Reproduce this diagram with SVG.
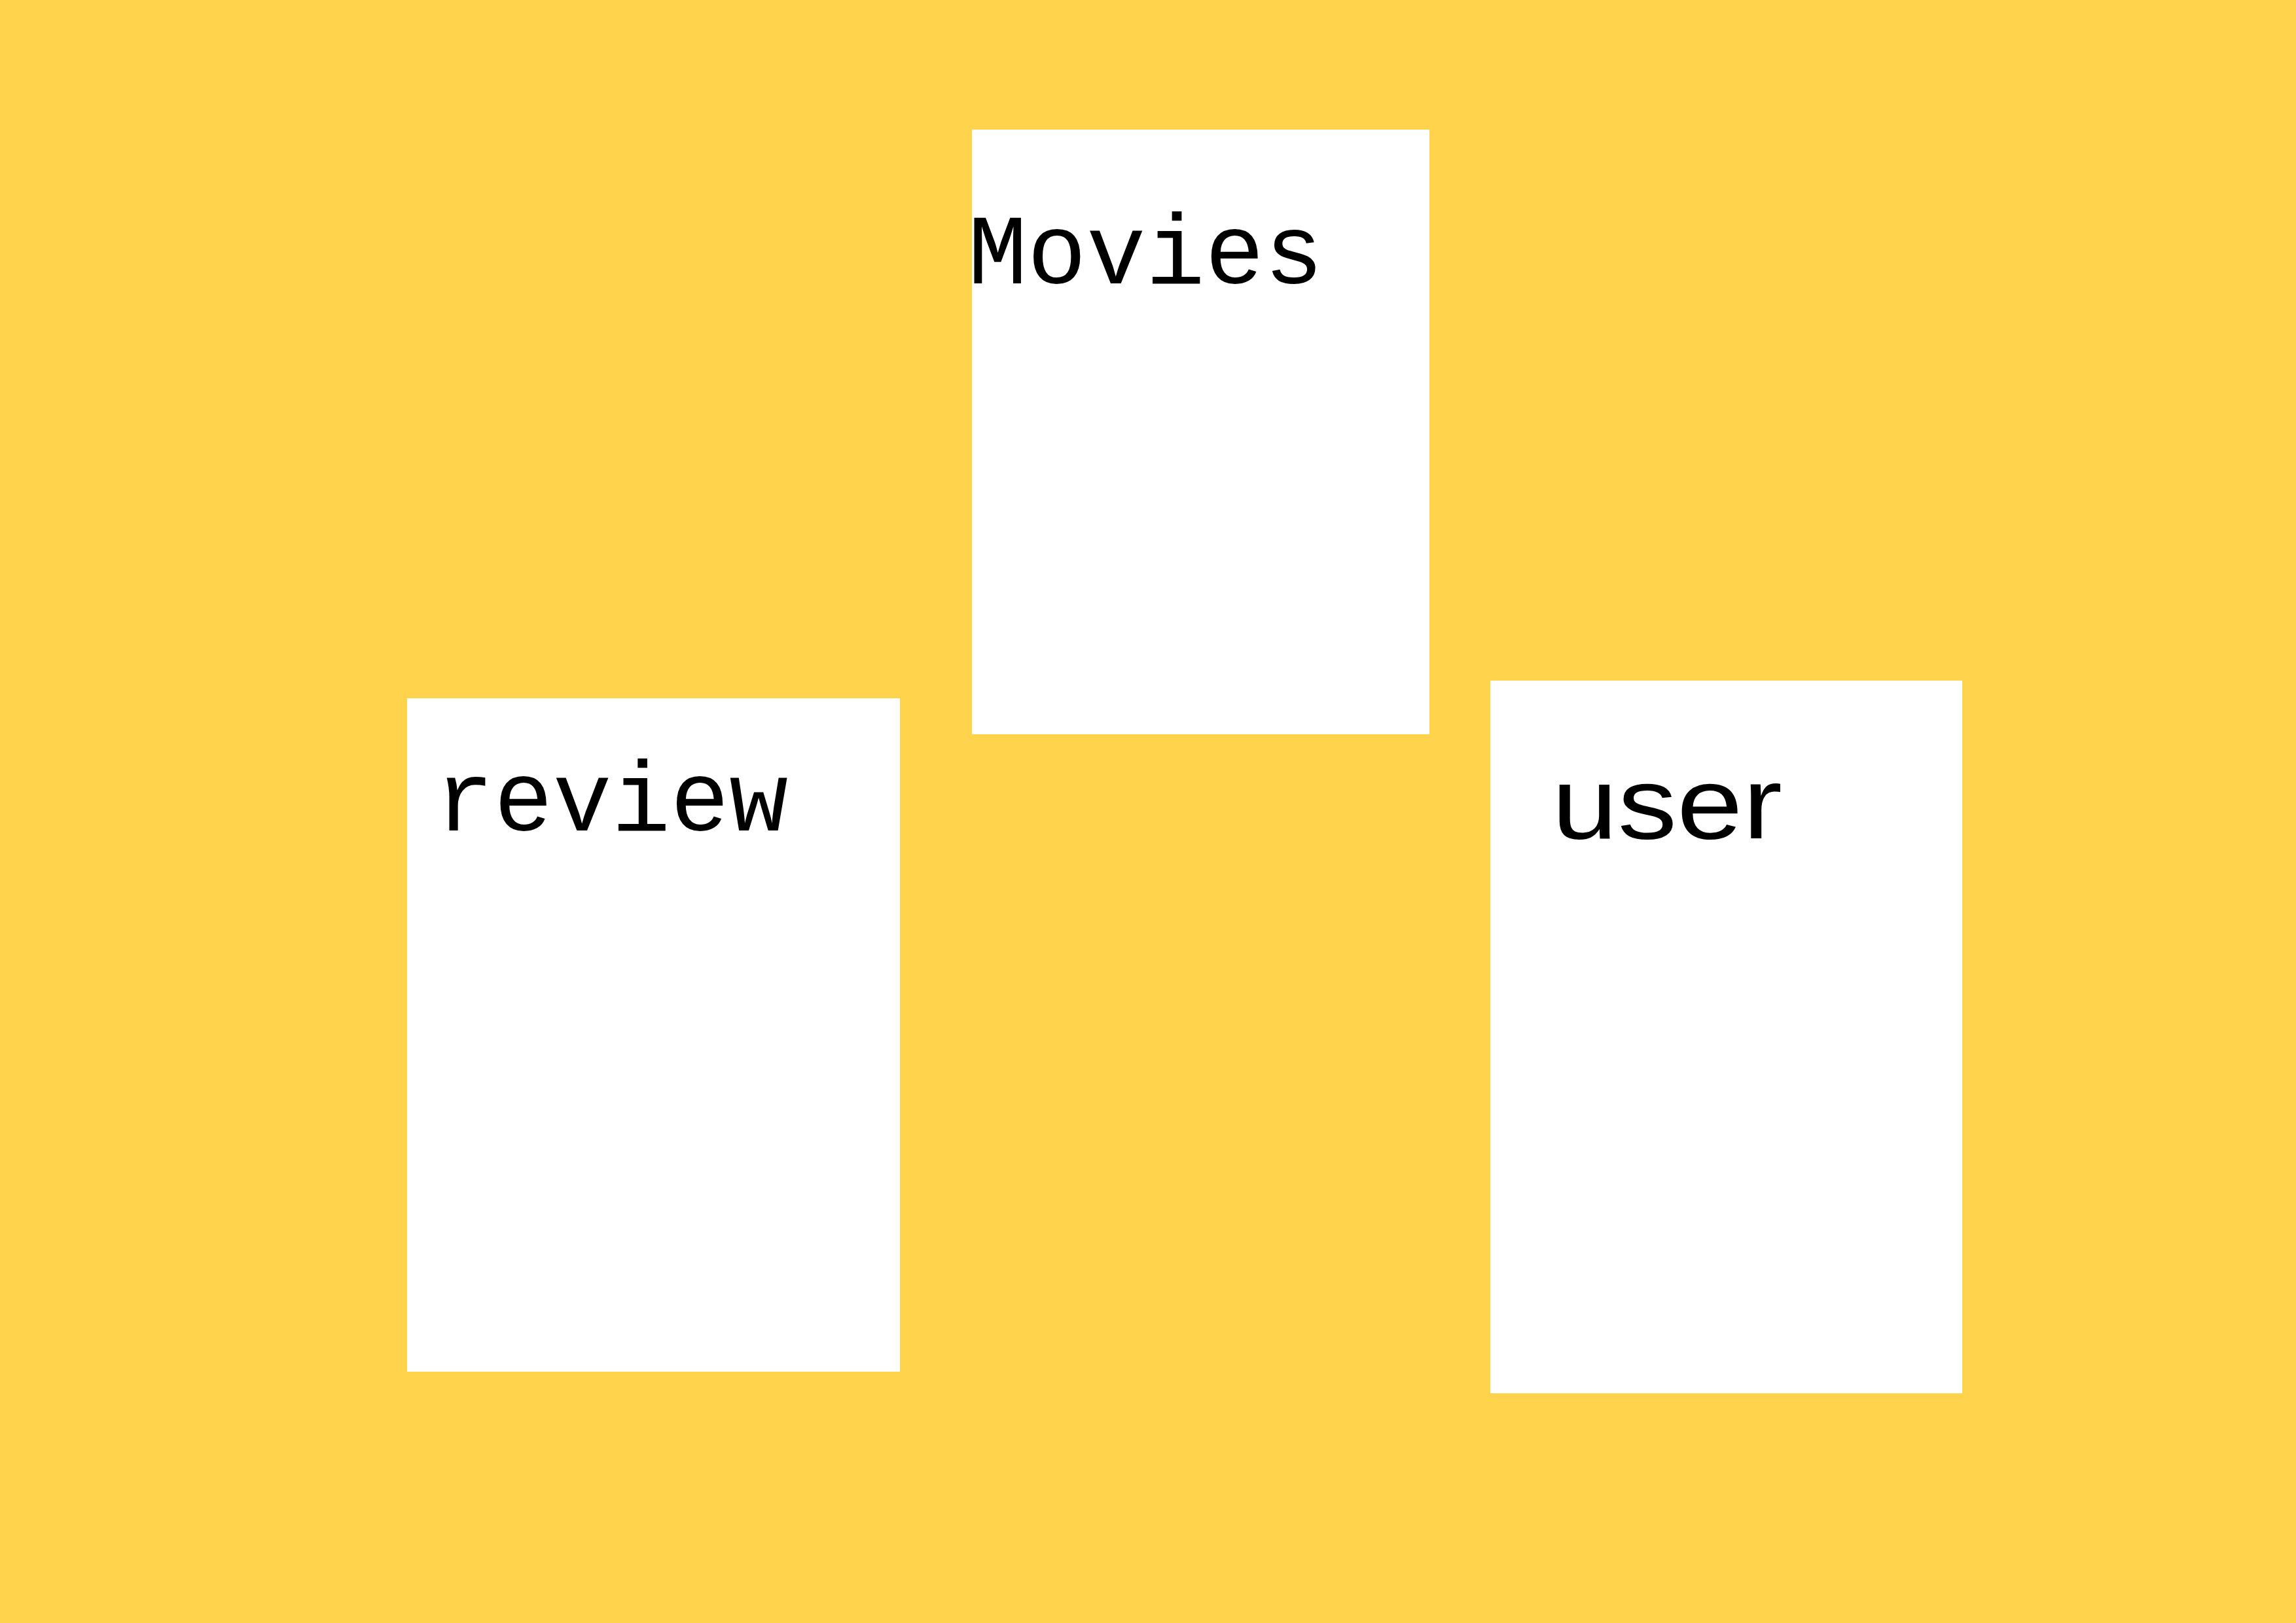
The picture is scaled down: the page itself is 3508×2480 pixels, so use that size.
<svg xmlns="http://www.w3.org/2000/svg" width="3508" height="2480" viewBox="0 0 3508 2480">
<style>
.card{fill:#ffffff;}
.mono{font-family:"Liberation Mono","DejaVu Sans Mono",monospace;font-size:152px;fill:#000000;}
.sans{font-family:"Liberation Sans",Arial,sans-serif;font-size:155px;fill:#000000;}
</style>
<rect x="0" y="0" width="3508" height="2480" fill="#FFD34B"/>
<g id="movies">
<rect class="card" x="1485" y="198" width="699" height="924"/>
<text class="mono" x="1479" y="433" textLength="543" lengthAdjust="spacingAndGlyphs">Movies</text>
</g>
<g id="review">
<rect class="card" x="622" y="1067" width="753" height="1029"/>
<text class="mono" x="665" y="1269" textLength="539" lengthAdjust="spacingAndGlyphs">review</text>
</g>
<g id="user">
<rect class="card" x="2277" y="1040" width="721" height="1089"/>
<text class="sans" x="2371" y="1281" textLength="352" lengthAdjust="spacingAndGlyphs">user</text>
</g>
<g id="connectors"></g>
</svg>
